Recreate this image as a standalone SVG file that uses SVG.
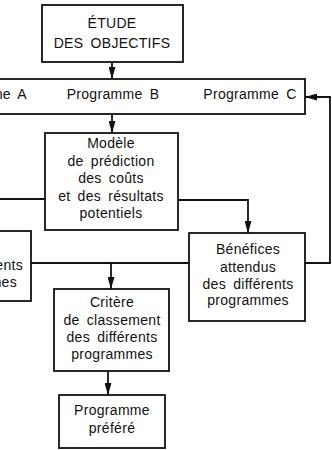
<svg xmlns="http://www.w3.org/2000/svg" width="332" height="450" viewBox="0 0 332 450">
<style>
.box{fill:#fff;stroke:#111;stroke-width:1.8}
.ln{fill:none;stroke:#111;stroke-width:1.8}
text{font-family:"Liberation Sans",Arial,sans-serif;font-size:14px;fill:#111;text-anchor:middle;word-spacing:3px;letter-spacing:0.3px}
.end{text-anchor:end}
</style>
<defs>
<marker id="ah" viewBox="0 0 12 7" refX="12" refY="3.5" markerWidth="12" markerHeight="7" markerUnits="userSpaceOnUse" orient="auto">
<path d="M0,0 L12,3.5 L0,7 Z" fill="#111"/>
</marker>
</defs>
<rect width="332" height="450" fill="#fff"/>
<g id="connectors">
<path class="ln" d="M112,62 V79" marker-end="url(#ah)"/>
<path class="ln" d="M112,114 V133" marker-end="url(#ah)"/>
<path class="ln" d="M45,199 H0"/>
<path class="ln" d="M178,200 H248 V233" marker-end="url(#ah)"/>
<path class="ln" d="M31,263 H189"/>
<path class="ln" d="M111,263 V289" marker-end="url(#ah)"/>
<path class="ln" d="M305,263 H330 V97 H305" marker-end="url(#ah)"/>
<path class="ln" d="M108,371 V395" marker-end="url(#ah)"/>
</g>
<g id="etude">
<rect class="box" x="42" y="5" width="141" height="57"/>
<text x="112" y="28">ÉTUDE</text>
<text x="112" y="48">DES OBJECTIFS</text>
</g>
<g id="programmes">
<rect class="box" x="-10" y="79" width="315" height="35"/>
<text x="27" y="99" class="end">me A</text>
<text x="113" y="99">Programme B</text>
<text x="250" y="99">Programme C</text>
</g>
<g id="modele">
<rect class="box" x="45" y="133" width="133" height="97"/>
<text x="111" y="148">Modèle</text>
<text x="111" y="166">de prédiction</text>
<text x="111" y="183">des coûts</text>
<text x="111" y="201">et des résultats</text>
<text x="111" y="218">potentiels</text>
</g>
<g id="couts">
<rect class="box" x="-90" y="231" width="121" height="70"/>
<text x="23" y="270" class="end">ents</text>
<text x="17" y="287" class="end">mes</text>
</g>
<g id="benefices">
<rect class="box" x="189" y="233" width="116" height="88"/>
<text x="248" y="254">Bénéfices</text>
<text x="248" y="272">attendus</text>
<text x="248" y="289">des différents</text>
<text x="248" y="305">programmes</text>
</g>
<g id="critere">
<rect class="box" x="54" y="289" width="115" height="82"/>
<text x="112" y="307">Critère</text>
<text x="112" y="325">de classement</text>
<text x="112" y="342">des différents</text>
<text x="112" y="359">programmes</text>
</g>
<g id="prefere">
<rect class="box" x="59" y="395" width="106" height="53"/>
<text x="112" y="415">Programme</text>
<text x="112" y="433">préféré</text>
</g>
</svg>
